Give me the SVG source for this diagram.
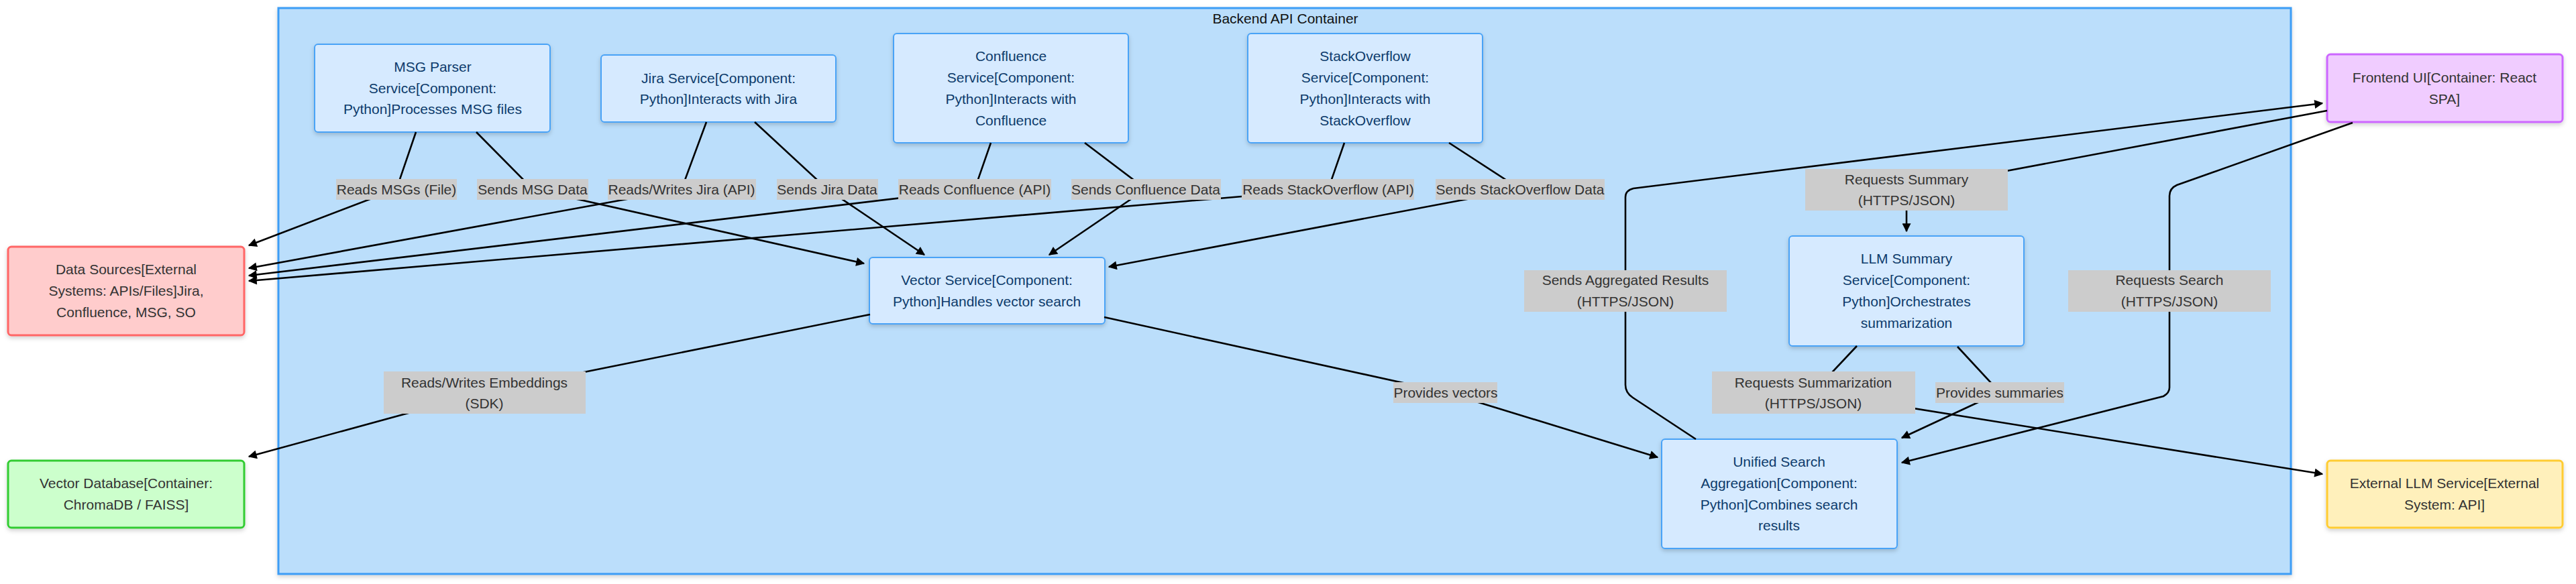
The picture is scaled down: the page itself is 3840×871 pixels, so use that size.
<svg xmlns="http://www.w3.org/2000/svg" width="3840" height="871" viewBox="0 0 3840 871">
<style>
text{font-family:"Liberation Sans",Arial,Helvetica,sans-serif;font-size:21px;text-anchor:middle}
.cont{fill:#bbdefb;stroke:#3d9df5;stroke-width:3}
.comp rect{fill:#d6eaff;stroke:#4aa3f7;stroke-width:2}
.comp text{fill:#0d3b6b}
.ext text{fill:#333}
.ds rect{fill:#ffcccc;stroke:#ff6666;stroke-width:3}
.vdb rect{fill:#ccffcc;stroke:#33cc33;stroke-width:3}
.fe rect{fill:#f0ccff;stroke:#cc66ff;stroke-width:3}
.llm rect{fill:#fff0bb;stroke:#ffcc33;stroke-width:3}
.edge{fill:none;stroke:#000;stroke-width:2.6}
.arr{marker-end:url(#ah)}
.lbl rect{fill:#cccccc}
.lbl text{fill:#333}
.title{fill:#111}
</style>
<defs>
<marker id="ah" viewBox="0 0 10 10" refX="9" refY="5" markerUnits="userSpaceOnUse" markerWidth="15" markerHeight="13" orient="auto">
<path d="M0,0 L10,5 L0,10 z" fill="#000"/>
</marker>
<filter id="sh" x="-10%" y="-10%" width="120%" height="130%">
<feDropShadow dx="0" dy="3" stdDeviation="3" flood-color="#000" flood-opacity="0.18"/>
</filter>
</defs>
<rect width="3840" height="871" fill="#ffffff"/>

<g id="backend-container">
<rect class="cont" x="415" y="12" width="3000" height="844" filter="url(#sh)"/>
<text class="title" x="1916" y="35">Backend API Container</text>
</g>

<g id="msg-parser" class="comp">
<rect x="469" y="66" width="351" height="131" rx="5" filter="url(#sh)"/>
<text x="645" y="107">MSG Parser</text>
<text x="645" y="139">Service[Component:</text>
<text x="645" y="170">Python]Processes MSG files</text>
</g>
<g id="jira-service" class="comp">
<rect x="896" y="82" width="350" height="100" rx="5" filter="url(#sh)"/>
<text x="1071" y="124">Jira Service[Component:</text>
<text x="1071" y="155">Python]Interacts with Jira</text>
</g>
<g id="confluence-service" class="comp">
<rect x="1332" y="50" width="350" height="163" rx="5" filter="url(#sh)"/>
<text x="1507" y="91">Confluence</text>
<text x="1507" y="123">Service[Component:</text>
<text x="1507" y="155">Python]Interacts with</text>
<text x="1507" y="187">Confluence</text>
</g>
<g id="stackoverflow-service" class="comp">
<rect x="1860" y="50" width="350" height="163" rx="5" filter="url(#sh)"/>
<text x="2035" y="91">StackOverflow</text>
<text x="2035" y="123">Service[Component:</text>
<text x="2035" y="155">Python]Interacts with</text>
<text x="2035" y="187">StackOverflow</text>
</g>
<g id="vector-service" class="comp">
<rect x="1296" y="384" width="351" height="99" rx="5" filter="url(#sh)"/>
<text x="1471" y="425">Vector Service[Component:</text>
<text x="1471" y="457">Python]Handles vector search</text>
</g>
<g id="llm-summary-service" class="comp">
<rect x="2667" y="352" width="350" height="164" rx="5" filter="url(#sh)"/>
<text x="2842" y="393">LLM Summary</text>
<text x="2842" y="425">Service[Component:</text>
<text x="2842" y="457">Python]Orchestrates</text>
<text x="2842" y="489">summarization</text>
</g>
<g id="unified-search" class="comp">
<rect x="2477" y="655" width="351" height="163" rx="5" filter="url(#sh)"/>
<text x="2652" y="696">Unified Search</text>
<text x="2652" y="728">Aggregation[Component:</text>
<text x="2652" y="760">Python]Combines search</text>
<text x="2652" y="791">results</text>
</g>
<g id="data-sources" class="ext ds">
<rect x="12" y="368" width="352" height="132" rx="5" filter="url(#sh)"/>
<text x="188" y="409">Data Sources[External</text>
<text x="188" y="441">Systems: APIs/Files]Jira,</text>
<text x="188" y="473">Confluence, MSG, SO</text>
</g>
<g id="vector-database" class="ext vdb">
<rect x="12" y="687" width="352" height="100" rx="5" filter="url(#sh)"/>
<text x="188" y="728">Vector Database[Container:</text>
<text x="188" y="760">ChromaDB / FAISS]</text>
</g>
<g id="frontend-ui" class="ext fe">
<rect x="3469" y="81" width="351" height="101" rx="5" filter="url(#sh)"/>
<text x="3644" y="123">Frontend UI[Container: React</text>
<text x="3644" y="155">SPA]</text>
</g>
<g id="external-llm" class="ext llm">
<rect x="3469" y="687" width="351" height="100" rx="5" filter="url(#sh)"/>
<text x="3644" y="728">External LLM Service[External</text>
<text x="3644" y="760">System: API]</text>
</g>

<g id="connectors">
<path class="edge arr" d="M620,197 L591,282 L371,366"/>
<path class="edge arr" d="M710,197 L794,282 L1288,393"/>
<path class="edge arr" d="M1053,182 L1016,282 L371,400"/>
<path class="edge arr" d="M1125,182 L1233,282 L1378,380"/>
<path class="edge arr" d="M1477,213 L1453,282 L371,411"/>
<path class="edge arr" d="M1617,213 L1708,282 L1564,380"/>
<path class="edge arr" d="M2004,213 L1980,282 L371,419"/>
<path class="edge arr" d="M2160,213 L2266,282 L1653,398"/>
<path class="edge arr" d="M1297,469 L722,585 L371,681"/>
<path class="edge arr" d="M1646,473 L2155,585 L2471,682"/>
<path class="edge arr" d="M2528,655 L2434,593 Q2423,586 2423,574 L2423,294 Q2423,284 2435,281 L3462,154"/>
<path class="edge arr" d="M3469,165 L2842,283 L2842,345"/>
<path class="edge arr" d="M3507,183 L3245,276 Q3234,281 3234,292 L3234,578 Q3234,586 3225,591 L2835,690"/>
<path class="edge arr" d="M2768,516 L2703,585 L3462,707"/>
<path class="edge arr" d="M2918,517 L2981,585 L2835,653"/>

<g class="lbl">
<rect x="501" y="267" width="180" height="31"/><text x="591" y="290">Reads MSGs (File)</text>
<rect x="711" y="267" width="166" height="31"/><text x="794" y="290">Sends MSG Data</text>
<rect x="906" y="267" width="221" height="31"/><text x="1016" y="290">Reads/Writes Jira (API)</text>
<rect x="1158" y="267" width="151" height="31"/><text x="1233" y="290">Sends Jira Data</text>
<rect x="1339" y="267" width="228" height="31"/><text x="1453" y="290">Reads Confluence (API)</text>
<rect x="1597" y="267" width="223" height="31"/><text x="1708" y="290">Sends Confluence Data</text>
<rect x="1851" y="267" width="257" height="31"/><text x="1980" y="290">Reads StackOverflow (API)</text>
<rect x="2140" y="267" width="252" height="31"/><text x="2266" y="290">Sends StackOverflow Data</text>
<rect x="572" y="554" width="301" height="63"/><text x="722" y="578">Reads/Writes Embeddings</text><text x="722" y="609">(SDK)</text>
<rect x="2077" y="570" width="155" height="31"/><text x="2155" y="593">Provides vectors</text>
<rect x="2272" y="403" width="302" height="62"/><text x="2423" y="425">Sends Aggregated Results</text><text x="2423" y="457">(HTTPS/JSON)</text>
<rect x="2691" y="252" width="302" height="62"/><text x="2842" y="275">Requests Summary</text><text x="2842" y="306">(HTTPS/JSON)</text>
<rect x="3083" y="403" width="302" height="62"/><text x="3234" y="425">Requests Search</text><text x="3234" y="457">(HTTPS/JSON)</text>
<rect x="2552" y="554" width="303" height="63"/><text x="2703" y="578">Requests Summarization</text><text x="2703" y="609">(HTTPS/JSON)</text>
<rect x="2885" y="570" width="192" height="31"/><text x="2981" y="593">Provides summaries</text>
</g>
</g>
</svg>
